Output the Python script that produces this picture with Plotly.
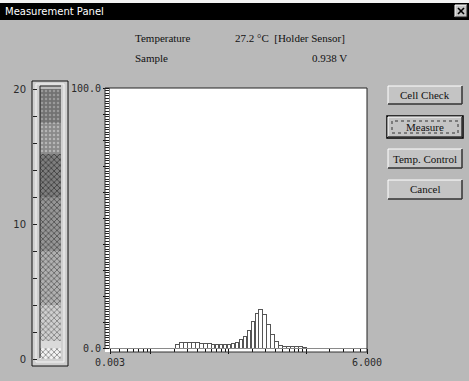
import numpy as np
import plotly.graph_objects as go

W, H = 469, 381
BG = '#b9b9b9'

# ---------------- data ----------------
bin_centers = [0.0220, 0.0248, 0.0279, 0.0313, 0.0352, 0.0396, 0.0446, 0.0501,
               0.0564, 0.0634, 0.0713, 0.0802, 0.0902, 0.1014, 0.1141, 0.1283,
               0.1443, 0.1622, 0.1824, 0.2052, 0.2307, 0.2595, 0.2918, 0.3282,
               0.3691, 0.4151, 0.4668, 0.5249, 0.5903, 0.6639, 0.7466, 0.8396,
               0.9442]
counts = [1.5, 2.2, 2.3, 2.3, 2.2, 2.0, 1.8, 1.7,
          1.7, 1.5, 1.4, 1.4, 1.4, 1.3, 1.8, 2.2,
          3.1, 4.6, 6.6, 10.2, 13.1, 14.8, 12.8, 9.2,
          5.1, 2.6, 1.1, 0.6, 0.5, 0.5, 0.4, 0.4,
          0.3]
x_range = [0.003, 6.0]
x_tick_labels = ['0.003', '6.000']
y_range = [0, 100]
y_tick_labels = ['0.0', '100.0']

gauge_bounds = [0, 0.85, 1.3, 4, 8, 12, 15.2, 17.5, 20]
gauge_ticks = [0, 2, 4, 6, 8, 10, 12, 14, 16, 18, 20]
gauge_labels = ['0', '', '', '', '', '10', '', '', '', '', '20']

temperature = 27.2
sample_voltage = 0.938
buttons = ['Cell Check', 'Measure', 'Temp. Control', 'Cancel']

# ---------------- helpers ----------------
def X(p):
    return p / W

def Y(p):
    return 1 - p / H

shapes = []
annotations = []

def rect(x0, y0, x1, y1, fill=None, line=None, lw=1, layer='below', dash=None):
    d = dict(type='rect', xref='paper', yref='paper', x0=X(x0), x1=X(x1),
             y0=Y(y1), y1=Y(y0), layer=layer,
             fillcolor=fill if fill else 'rgba(0,0,0,0)',
             line=dict(color=line if line else 'rgba(0,0,0,0)', width=lw if line else 0))
    if dash:
        d['line']['dash'] = dash
    shapes.append(d)

def hline(x0, x1, y, color, lw=1, layer='above'):
    shapes.append(dict(type='line', xref='paper', yref='paper', x0=X(x0), x1=X(x1),
                       y0=Y(y), y1=Y(y), line=dict(color=color, width=lw), layer=layer))

def vline(x, y0, y1, color, lw=1, layer='above'):
    shapes.append(dict(type='line', xref='paper', yref='paper', x0=X(x), x1=X(x),
                       y0=Y(y0), y1=Y(y1), line=dict(color=color, width=lw), layer=layer))

def text(x, y, s, size=11, color='#111', family='Liberation Serif', xanchor='left'):
    annotations.append(dict(x=X(x), y=Y(y), xref='paper', yref='paper', text=s,
                            showarrow=False, xanchor=xanchor, yanchor='middle',
                            font=dict(family=family, size=size, color=color)))

# ---------------- window chrome ----------------
rect(0, 0, W, 3, fill='#f2f2f2')
rect(0, 3, W, 20, fill='#000000')
text(3, 11.5, 'Measurement Panel', size=10, color='white', family='DejaVu Sans')
# close button
rect(455, 5, 467, 17, fill='#c4c4c4', layer='above')
hline(455, 467, 5, 'white'); vline(455, 5, 17, 'white')
hline(455, 467, 17, '#222'); vline(467, 5, 17, '#222')
shapes.append(dict(type='line', xref='paper', yref='paper', x0=X(458), x1=X(464), y0=Y(8), y1=Y(14),
                   line=dict(color='#000', width=1.6)))
shapes.append(dict(type='line', xref='paper', yref='paper', x0=X(458), x1=X(464), y0=Y(14), y1=Y(8),
                   line=dict(color='#000', width=1.6)))

# header info
text(133, 38, 'Temperature')
text(233, 38, f'{temperature:.1f} °C\u00a0\u00a0[Holder Sensor]')
text(133, 58, 'Sample')
text(349, 58, f'{sample_voltage:.3f} V', xanchor='right')

# buttons
btn_y = [(86, 104), (117, 137), (149, 168), (180, 199)]
for label, (y0, y1) in zip(buttons, btn_y):
    x0, x1 = 388, 462
    rect(x0, y0, x1, y1, fill='#c4c4c4')
    if label == 'Measure':
        rect(x0 - 1, y0 - 1, x1 + 1, y1 + 1, line='#000', lw=1.5, layer='above')
    hline(x0, x1, y0, 'white'); vline(x0, y0, y1, 'white')
    hline(x0, x1, y1, '#333', lw=1.5); vline(x1, y0, y1, '#333', lw=1.5)
    if label == 'Measure':
        rect(x0 + 4, y0 + 4, x1 - 4, y1 - 4, line='#333', lw=1, layer='above', dash='dot')
    text((x0 + x1) / 2, (y0 + y1) / 2, label, size=11, xanchor='center')

# ---------------- main plot backgrounds ----------------
PX0, PX1, PY0, PY1 = 110, 367, 88, 348
rect(105, PY0, PX1, 352, fill='white')
vline(105, PY0, PY1, '#333')
hline(PX0, PX1, 352, '#333')
hline(105, PX1, PY0, '#222')
vline(PX1, PY0, 352, '#222')

# ---------------- gauge frame ----------------
rect(32, 81, 68, 366, fill='#cfcfcf', line='#111', lw=1)
rect(36, 84, 64, 362, line='#f4f4f4', lw=1)
rect(40, 86, 61, 358, fill='#bdbdbd')
vline(40, 86, 358, '#222'); hline(40, 61, 86, '#222')

# ---------------- traces ----------------
fig = go.Figure()

bar_w = float(np.log10(bin_centers[1] / bin_centers[0])) * 0.9
fig.add_trace(go.Bar(x=np.log10(bin_centers), y=counts, xaxis='x2', yaxis='y',
                     width=bar_w, marker=dict(color='white', line=dict(color='#555', width=1)),
                     hoverinfo='skip', showlegend=False))
fig.add_trace(go.Scatter(x=x_range, y=y_range, mode='markers', xaxis='x', yaxis='y',
                         marker=dict(opacity=0), hoverinfo='skip', showlegend=False))

seg_styles = [
    dict(shape='x', fg='#666666', bg='#f2f2f2'),
    dict(shape='', fg='#dadada', bg='#dadada'),
    dict(shape='x', fg='#666666', bg='#cfcfcf'),
    dict(shape='x', fg='#4a4a4a', bg='#b0b0b0'),
    dict(shape='x', fg='#3a3a3a', bg='#969696'),
    dict(shape='x', fg='#2a2a2a', bg='#7e7e7e'),
    dict(shape='.', fg='#b5b5b5', bg='#8a8a8a'),
    dict(shape='.', fg='#9a9a9a', bg='#727272'),
]
thick = np.diff(gauge_bounds)
for t, st in zip(thick, seg_styles):
    fig.add_trace(go.Bar(x=[0], y=[float(t)], xaxis='x3', yaxis='y3', width=1,
                         marker=dict(color=st['bg'], line=dict(width=0),
                                     pattern=dict(shape=st['shape'], fgcolor=st['fg'],
                                                  bgcolor=st['bg'], size=4, solidity=0.3)),
                         hoverinfo='skip', showlegend=False))

# ---------------- axes ----------------
minor_x = [m * 10.0 ** e for e in (-3, -2, -1, 0) for m in range(2, 10)]
minor_x = [v for v in minor_x if x_range[0] < v < x_range[1] and v not in (0.01, 0.1, 1)]
mono = dict(family='DejaVu Sans Mono', size=10, color='#2a2a2a')

fig.update_layout(
    template='none',
    width=W, height=H, margin=dict(l=0, r=0, t=0, b=0, pad=0, autoexpand=False),
    paper_bgcolor=BG, plot_bgcolor='rgba(0,0,0,0)',
    barmode='stack', bargap=0, showlegend=False,
    shapes=shapes, annotations=annotations,
    xaxis=dict(type='log', domain=[X(PX0), X(PX1)], anchor='y', automargin=False,
               range=[np.log10(x_range[0]), np.log10(x_range[1])],
               tickmode='array', tickvals=[x_range[0], 0.01, 0.1, 1, x_range[1]],
               ticktext=[x_tick_labels[0], '', '', '', x_tick_labels[1]],
               ticks='outside', ticklen=5, tickcolor='#111', tickwidth=1,
               minor=dict(tickmode='array', tickvals=minor_x, ticks='outside', ticklen=3,
                          tickcolor='#111', tickwidth=1, showgrid=False),
               showline=True, linecolor='#8a8a8a', linewidth=1, showgrid=False,
               zeroline=False, tickfont=mono, fixedrange=True),
    xaxis2=dict(overlaying='x', anchor='y', visible=False, automargin=False,
                range=[np.log10(x_range[0]), np.log10(x_range[1])]),
    yaxis=dict(domain=[Y(PY1), Y(PY0)], anchor='x', range=y_range, automargin=False,
               tickmode='array', tickvals=list(range(0, 101, 10)),
               ticktext=[y_tick_labels[0]] + [''] * 9 + [y_tick_labels[1]],
               ticks='outside', ticklen=6, tickcolor='#111', tickwidth=1,
               minor=dict(tickmode='linear', tick0=0, dtick=1, ticks='outside', ticklen=4,
                          tickcolor='#222', tickwidth=1, showgrid=False),
               showline=True, linecolor='#8a8a8a', linewidth=1, showgrid=False,
               zeroline=False, tickfont=mono, fixedrange=True),
    xaxis3=dict(domain=[X(40), X(61)], anchor='y3', range=[-0.5, 0.5], visible=False,
                automargin=False),
    yaxis3=dict(domain=[Y(359), Y(89)], anchor='free', position=X(37), side='left',
                range=[0, 20], tickmode='array', tickvals=gauge_ticks, ticktext=gauge_labels,
                ticks='outside', ticklen=4, tickcolor='#222', showline=False, showgrid=False,
                zeroline=False, ticklabelstandoff=5, automargin=False,
                tickfont=dict(family='DejaVu Sans', size=10, color='#2a2a2a')),
)

fig.write_html('out.html', config={'displayModeBar': False, 'staticPlot': True},
               post_script="document.body.style.margin='0';")
